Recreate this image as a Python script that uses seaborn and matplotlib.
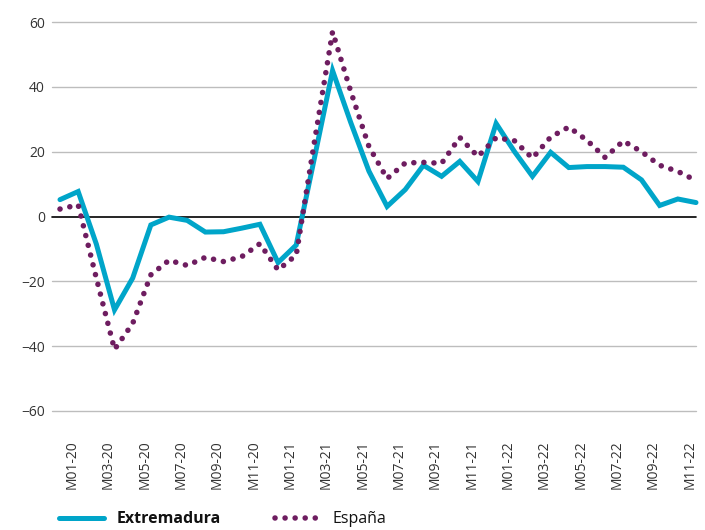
import numpy as np
import pandas as pd
import matplotlib
matplotlib.use('Agg')
import matplotlib.pyplot as plt
import matplotlib.transforms as mtransforms
import seaborn as sns
from matplotlib.lines import Line2D

# monthly series, Jan 2020 - Dec 2022
months = ['M01-20', 'M02-20', 'M03-20', 'M04-20', 'M05-20', 'M06-20',
          'M07-20', 'M08-20', 'M09-20', 'M10-20', 'M11-20', 'M12-20',
          'M01-21', 'M02-21', 'M03-21', 'M04-21', 'M05-21', 'M06-21',
          'M07-21', 'M08-21', 'M09-21', 'M10-21', 'M11-21', 'M12-21',
          'M01-22', 'M02-22', 'M03-22', 'M04-22', 'M05-22', 'M06-22',
          'M07-22', 'M08-22', 'M09-22', 'M10-22', 'M11-22', 'M12-22']

extremadura = [5.2, 7.7, -8.5, -28.8, -19.0, -2.6, -0.2, -1.2, -4.8, -4.7, -3.6, -2.4,
               -14.2, -8.8, 18.0, 45.0, 29.0, 14.0, 3.1, 8.3, 15.8, 12.4, 17.0, 10.8,
               28.7, 20.1, 12.4, 19.8, 15.1, 15.4, 15.4, 15.2, 11.3, 3.4, 5.4, 4.3]

espana = [2.3, 3.6, -19.0, -41.0, -33.0, -18.0, -13.5, -15.1, -12.6, -13.9, -12.4, -8.4,
          -16.5, -11.9, 23.0, 57.0, 38.6, 21.6, 11.7, 16.5, 16.7, 16.4, 24.4, 18.5,
          24.3, 23.4, 18.0, 24.5, 27.6, 23.5, 18.2, 23.3, 20.0, 15.8, 13.9, 11.1]

yticks = [-60, -40, -20, 0, 20, 40, 60]

blue = '#00a5c9'
purple = '#6e1d60'
text_col = '#333333'
dots = (0, (0.01, 1.8))

df = pd.DataFrame({'pos': np.arange(len(months)), 'month': months,
                   'Extremadura': extremadura, 'España': espana})

sns.set_theme(style='white')
plt.rcParams['font.family'] = ['Open Sans', 'DejaVu Sans']

fig = plt.figure(figsize=(7.05, 5.3), dpi=100)
ax = fig.add_axes([52 / 705, 1 - 411 / 530, (696 - 52) / 705, (411 - 22) / 530])

# grid first
for v in yticks:
    if v == 0:
        ax.axhline(v, color='black', lw=1.2, zorder=1, clip_on=False)
    else:
        ax.axhline(v, color='#bdbdbd', lw=1.0, zorder=1, clip_on=False)

sns.lineplot(data=df, x='pos', y='Extremadura', ax=ax, color=blue,
             linewidth=3.6, solid_joinstyle='miter', clip_on=False, zorder=3)
sns.lineplot(data=df, x='pos', y='España', ax=ax, color=purple,
             linewidth=4.0, linestyle=dots, dash_capstyle='round',
             clip_on=False, zorder=4)

ax.set_xlim(-0.44, 35.0)
ax.set_ylim(-60, 60)
ax.set_yticks(yticks)
ax.set_yticklabels([str(v).replace('-', '\u2212') for v in yticks])
ax.set_xticks(df['pos'][::2])
ax.set_xticklabels(df['month'][::2], rotation=90, va='top', ha='center')
ax.set_xlabel('')
ax.set_ylabel('')
ax.tick_params(axis='y', length=0, pad=5, labelsize=10, labelcolor=text_col)
ax.tick_params(axis='x', length=0, pad=21, labelsize=10, labelcolor=text_col)
for s in ax.spines.values():
    s.set_visible(False)
ax.grid(False)

# labels sit a little right of the points, as in the original
offset = mtransforms.ScaledTranslation(0.12, 0, fig.dpi_scale_trans)
for lab in ax.get_xticklabels():
    lab.set_transform(lab.get_transform() + offset)

handles = [Line2D([], [], color=blue, lw=3.6),
           Line2D([], [], color=purple, lw=4.0, linestyle=dots,
                  dash_capstyle='round')]
leg = fig.legend(handles, ['Extremadura', 'España'], loc='lower left',
                 bbox_to_anchor=(45 / 705, -0.022), ncol=2, frameon=False,
                 fontsize=11.5, handlelength=2.8, columnspacing=3.4,
                 handletextpad=0.8)
leg.get_texts()[0].set_fontweight('bold')
for t in leg.get_texts():
    t.set_color('#111111')

fig.savefig('out.png', dpi=100)
